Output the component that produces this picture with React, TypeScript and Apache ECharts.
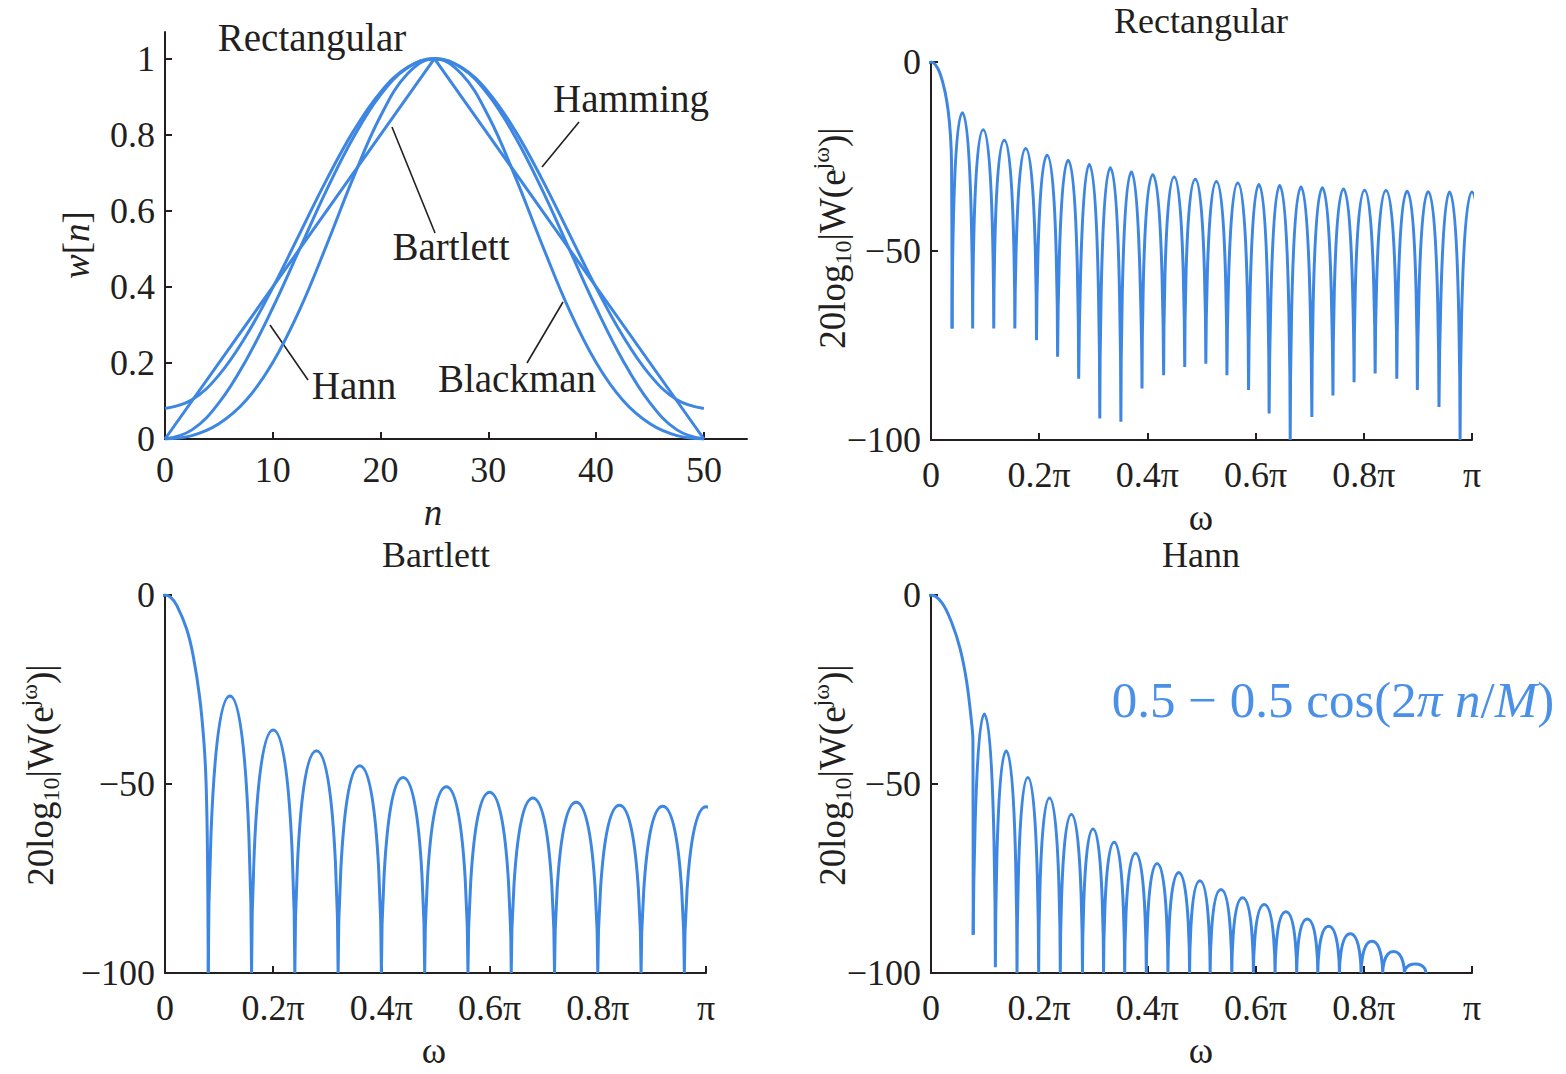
import React, { useEffect, useRef } from 'react';
import * as echarts from 'echarts';

const INK = '#231f20';
const BLUE = '#3d86e2';
const FORMULA_BLUE = '#4a90e6';
const FONT = "'Liberation Serif', 'DejaVu Serif', serif";

// ---------- Window shapes (top-left) ----------
const windowN = [0, 2.5, 5, 7.5, 10, 12.5, 15, 17.5, 20, 22.5, 25, 27.5, 30, 32.5, 35, 37.5, 40, 42.5, 45, 47.5, 50];
const hannW = [0, 0.024, 0.095, 0.206, 0.345, 0.5, 0.655, 0.794, 0.905, 0.976, 1, 0.976, 0.905, 0.794, 0.655, 0.5, 0.345, 0.206, 0.095, 0.024, 0];
const hammingW = [0.08, 0.103, 0.168, 0.27, 0.398, 0.54, 0.682, 0.81, 0.912, 0.977, 1, 0.977, 0.912, 0.81, 0.682, 0.54, 0.398, 0.27, 0.168, 0.103, 0.08];
const blackmanW = [0, 0.009, 0.04, 0.101, 0.201, 0.34, 0.51, 0.689, 0.849, 0.96, 1, 0.96, 0.849, 0.689, 0.51, 0.34, 0.201, 0.101, 0.04, 0.009, 0];
const bartlettN = [0, 25, 50];
const bartlettW = [0, 1, 0];

const windowXLabels = [0, 10, 20, 30, 40, 50];
const windowYLabels = [0, 0.2, 0.4, 0.6, 0.8, 1];
const freqLabels = [0, 0.2, 0.4, 0.6, 0.8, 1]; // multiples of pi
const dbLabels = [-100, -50, 0];

// ---------- Rectangular spectrum (x in units of pi, y in dB) ----------
const rectMainLobe = [[-0.008, -0.7], [0, 0], [0.008, -0.7], [0.0166, -3], [0.026, -7.9], [0.032, -13.2], [0.036, -19.5], [0.038, -27], [0.039, -70.5]];
const rectNullX = [0.039, 0.077, 0.116, 0.155, 0.195, 0.234, 0.273, 0.312, 0.351, 0.39, 0.43, 0.469, 0.508, 0.547, 0.587, 0.625, 0.664, 0.704, 0.743, 0.782, 0.821, 0.861, 0.899, 0.939, 0.978];
const rectNullDb = [-70.5, -70.5, -70.5, -70.5, -73.6, -78, -83.8, -94.3, -95.2, -86.4, -82.9, -80.7, -79.8, -82.9, -86.8, -93, -100, -93.9, -88.2, -84.7, -82.4, -83.8, -86.8, -91.3, -100];
const rectPeakDb = [-13.4, -17.9, -20.7, -22.9, -24.7, -26, -27.1, -28, -29.1, -29.8, -30.4, -31, -31.6, -32, -32.4, -32.7, -33.1, -33.3, -33.6, -33.9, -34, -34.2, -34.3, -34.4];
const rectEndDb = -34.4;

// ---------- Bartlett spectrum ----------
const bartMainLobe = [[-0.011, -0.7], [0, 0], [0.011, -0.7], [0.022, -2.8], [0.04, -9], [0.052, -16], [0.064, -27], [0.072, -39], [0.076, -50], [0.0785, -68], [0.08, -100]];
const bartNullX = [0.08, 0.16, 0.24, 0.32, 0.4, 0.48, 0.56, 0.64, 0.72, 0.8, 0.88, 0.96];
const bartNullDb = [-100, -100, -100, -100, -100, -100, -100, -100, -100, -100, -100, -100];
const bartPeakDb = [-26.7, -35.7, -41.2, -45.2, -48.3, -50.7, -52.2, -53.7, -54.8, -55.6, -55.9];
const bartEndDb = -56;

// ---------- Hann spectrum ----------
const hannMainLobe = [[-0.02, -2], [0, 0], [0.02, -2], [0.038, -7.2], [0.054, -14.3], [0.066, -23], [0.075, -33.7], [0.0775, -38.5], [0.078, -89.9]];
const hannNullX = [0.078, 0.119, 0.159, 0.199, 0.239, 0.28, 0.319, 0.358, 0.398, 0.438, 0.478, 0.516, 0.556, 0.596, 0.636, 0.676, 0.715, 0.755, 0.795, 0.835, 0.875, 0.915];
const hannNullDb = [-89.9, -98.5, -100, -100, -100, -100, -100, -100, -100, -100, -100, -100, -100, -100, -100, -100, -100, -100, -100, -100, -100, -100];
const hannPeakDb = [-31.5, -41.2, -48.3, -53.7, -58.1, -61.9, -65.4, -68.3, -71, -73.4, -75.6, -77.9, -80.1, -81.9, -83.8, -85.7, -87.6, -89.6, -91.6, -94.3, -97.6];

// side lobes: each lobe runs null -> peak -> null and is its own line segment
function buildSideLobes(nullX: number[], nullDb: number[], peakDb: number[], endDb?: number) {
  const d: any[] = [];
  for (let i = 0; i < peakDb.length; i++) {
    const xl = nullX[i];
    const xr = nullX[i + 1];
    d.push([xl, nullDb[i]], [(xl + xr) / 2, peakDb[i]], [xr, nullDb[i + 1]], [xr, '-']);
  }
  if (endDb !== undefined) {
    const xl = nullX[nullX.length - 1];
    const dl = nullDb[nullDb.length - 1];
    // the last lobe is symmetric about pi; its mirrored half is clipped by the axis
    d.push([xl, dl], [1, endDb], [2 - xl, dl]);
  }
  return d;
}

const labelStyle = { color: INK, fontFamily: FONT, fontSize: 36 };

function xAxisCfg(gridIndex: number, min: number, max: number, labels: number[], ticks: number[], fmt: (v: number) => string, margin: number) {
  return {
    type: 'value', gridIndex, min, max,
    axisLine: { show: true, onZero: false, lineStyle: { color: INK, width: 2 } },
    axisTick: { show: true, inside: true, length: 7, customValues: ticks, lineStyle: { color: INK, width: 2 } },
    axisLabel: { ...labelStyle, margin, customValues: labels, formatter: fmt },
    splitLine: { show: false },
  };
}
function yAxisCfg(gridIndex: number, min: number, max: number, labels: number[], ticks: number[], fmt: (v: number) => string) {
  return {
    type: 'value', gridIndex, min, max,
    axisLine: { show: true, onZero: false, lineStyle: { color: INK, width: 2 } },
    axisTick: { show: true, inside: true, length: 7, customValues: ticks, lineStyle: { color: INK, width: 2 } },
    axisLabel: { ...labelStyle, margin: 10, customValues: labels, formatter: fmt },
    splitLine: { show: false },
  };
}

const piFmt = (v: number) => (v === 0 ? '0' : v === 1 ? 'π' : `${Number(v.toFixed(1))}π`);
const dbFmt = (v: number) => (v < 0 ? `\u2212${Math.abs(v)}` : `${v}`);
const numFmt = (v: number) => `${Number(v.toFixed(1))}`;

function text(t: string, x: number, y: number, size: number, extra: any = {}) {
  return {
    type: 'text', x, y, silent: true, ...extra.el,
    style: {
      text: t, fill: INK, fontSize: size, fontFamily: FONT,
      align: 'center', verticalAlign: 'middle', textAlign: 'center', textVerticalAlign: 'middle',
      ...extra.style,
    },
  };
}
function leader(x1: number, y1: number, x2: number, y2: number) {
  return { type: 'line', silent: true, shape: { x1, y1, x2, y2 }, style: { stroke: INK, lineWidth: 1.6 } };
}

const dbRich = {
  a: { fontSize: 37, fontFamily: FONT, fill: INK, lineHeight: 46 },
  s: { fontSize: 24, fontFamily: FONT, fill: INK, lineHeight: 22, verticalAlign: 'bottom' },
  p: { fontSize: 24, fontFamily: FONT, fill: INK, lineHeight: 22, verticalAlign: 'top' },
};
const dbName = '{a|20log}{s|10}{a||W(e}{p|jω}{a|)|}';

function dbLabel(x: number, y: number) {
  return text(dbName, x, y, 37, { el: { rotation: Math.PI / 2 }, style: { rich: dbRich } });
}

export default function App() {
  const ref = useRef<HTMLDivElement>(null);
  useEffect(() => {
    document.body.style.margin = '0';
    if (!ref.current) return;
    const chart = echarts.init(ref.current, undefined, { renderer: 'svg' });
    const line = (name: string, xi: number, data: any[], smooth: number | boolean) => ({
      name, type: 'line', xAxisIndex: xi, yAxisIndex: xi, data, smooth,
      showSymbol: false, symbol: 'none', clip: true, silent: true,
      lineStyle: { color: BLUE, width: 3 }, emphasis: { disabled: true },
    });
    const option: any = {
      animation: false,
      backgroundColor: '#ffffff',
      grid: [
        { left: 165, top: 32, width: 582, height: 407, outerBoundsMode: 'none' },
        { left: 931, top: 62, width: 541, height: 378, outerBoundsMode: 'none' },
        { left: 165, top: 595, width: 541, height: 378, outerBoundsMode: 'none' },
        { left: 931, top: 595, width: 541, height: 378, outerBoundsMode: 'none' },
      ],
      xAxis: [
        xAxisCfg(0, 0, 54, windowXLabels, [10, 20, 30, 40, 50], numFmt, 13),
        xAxisCfg(1, 0, 1, freqLabels, [0.2, 0.4, 0.6, 0.8, 1], piFmt, 17),
        xAxisCfg(2, 0, 1, freqLabels, [0.2, 0.4, 0.6, 0.8, 1], piFmt, 17),
        xAxisCfg(3, 0, 1, freqLabels, [0.2, 0.4, 0.6, 0.8, 1], piFmt, 17),
      ],
      yAxis: [
        yAxisCfg(0, 0, 1.07, windowYLabels, [0.2, 0.4, 0.6, 0.8, 1], numFmt),
        yAxisCfg(1, -100, 0, dbLabels, [-50, 0], dbFmt),
        yAxisCfg(2, -100, 0, dbLabels, [-50, 0], dbFmt),
        yAxisCfg(3, -100, 0, dbLabels, [-50, 0], dbFmt),
      ],
      series: [
        line('Hamming', 0, windowN.map((n, i) => [n, hammingW[i]]), 0.4),
        line('Hann', 0, windowN.map((n, i) => [n, hannW[i]]), 0.4),
        line('Blackman', 0, windowN.map((n, i) => [n, blackmanW[i]]), 0.4),
        line('Bartlett', 0, bartlettN.map((n, i) => [n, bartlettW[i]]), false),
        line('Rectangular main lobe', 1, rectMainLobe, 0.35),
        line('Rectangular side lobes', 1, buildSideLobes(rectNullX, rectNullDb, rectPeakDb, rectEndDb), 1),
        line('Bartlett main lobe', 2, bartMainLobe, 0.35),
        line('Bartlett side lobes', 2, buildSideLobes(bartNullX, bartNullDb, bartPeakDb, bartEndDb), 1),
        line('Hann main lobe', 3, hannMainLobe, 0.35),
        line('Hann side lobes', 3, buildSideLobes(hannNullX, hannNullDb, hannPeakDb), 1),
      ],
      graphic: {
        elements: [
          // annotations of the window panel
          text('Rectangular', 312, 37, 39),
          text('Hamming', 631, 98, 39),
          text('Bartlett', 451, 246, 39),
          text('Hann', 354, 385, 39),
          text('Blackman', 517, 378, 39),
          leader(579, 122, 542, 167),
          leader(392, 127, 435, 233),
          leader(270, 325, 308, 380),
          leader(563, 302, 527, 363),
          // axis names
          text('{i|w}{r|[}{i|n}{r|]}', 76, 245, 37, {
            el: { rotation: Math.PI / 2 },
            style: { rich: { i: { fontSize: 37, fontFamily: FONT, fontStyle: 'italic', fill: INK }, r: { fontSize: 37, fontFamily: FONT, fill: INK } } },
          }),
          text('n', 433, 512, 37, { style: { fontStyle: 'italic' } }),
          text('ω', 1201, 517, 37),
          text('ω', 434, 1050, 37),
          text('ω', 1201, 1050, 37),
          dbLabel(832, 238),
          dbLabel(40, 775),
          dbLabel(832, 775),
          // panel titles
          text('Rectangular', 1201, 21, 36),
          text('Bartlett', 436, 555, 36),
          text('Hann', 1201, 555, 36),
          // formula
          text('{r|0.5 − 0.5 cos(2}{i|π n}{r|/}{i|M}{r|)}', 1333, 700, 51, {
            style: {
              fill: FORMULA_BLUE,
              rich: {
                r: { fontSize: 51, fontFamily: FONT, fill: FORMULA_BLUE },
                i: { fontSize: 51, fontFamily: FONT, fontStyle: 'italic', fill: FORMULA_BLUE },
              },
            },
          }),
        ],
      },
    };
    chart.setOption(option);
    return () => chart.dispose();
  }, []);
  return <div ref={ref} style={{ width: 1566, height: 1074 }} />;
}
